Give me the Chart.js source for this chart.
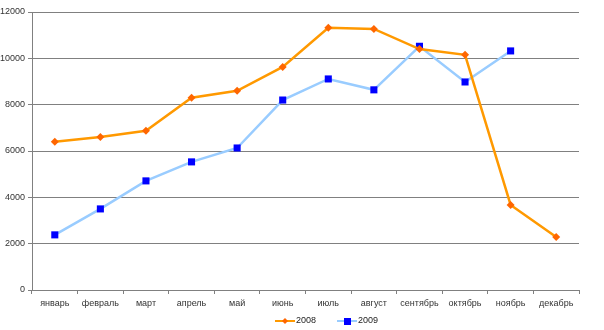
<!DOCTYPE html>
<html><head><meta charset="utf-8">
<script src="https://cdn.jsdelivr.net/npm/chart.js@4"></script>
<style>html,body{margin:0;padding:0;background:#fff}#w{width:604px;height:330px}</style>
</head><body><div id="w"><canvas id="c"></canvas></div>
<script>
const categories = ["январь","февраль","март","апрель","май","июнь","июль","август","сентябрь","октябрь","ноябрь","декабрь"];
const series2008 = [6400,6600,6870,8300,8600,9630,11320,11270,10400,10150,3670,2290];
const series2009 = [2380,3500,4710,5530,6130,8200,9110,8640,10520,8980,10320,null];
const yTicks = [0,2000,4000,6000,8000,10000,12000];
const seriesNames = ["2008","2009"];

const bottomLegend = {
  id:'bottomLegend',
  afterDraw(chart){
    const g=chart.ctx;
    const y=321;
    g.save();
    g.font='9px "Liberation Sans"';
    g.textBaseline='middle';
    const items=[{x:275,ds:0},{x:337,ds:1}];
    items.forEach(it=>{
      const ds=chart.data.datasets[it.ds];
      const x0=it.x;
      g.strokeStyle=ds.borderColor; g.lineWidth=2;
      g.beginPath(); g.moveTo(x0,y); g.lineTo(x0+20,y); g.stroke();
      g.fillStyle=ds.pointBackgroundColor;
      if(ds.pointStyle==='rectRot'){g.beginPath();g.moveTo(x0+10,y-3);g.lineTo(x0+13,y);g.lineTo(x0+10,y+3);g.lineTo(x0+7,y);g.closePath();g.fill();}
      else g.fillRect(x0+7,y-3,7,7);
      g.fillStyle='#222';
      g.fillText(ds.label,x0+21,y);
    });
    g.restore();
  }
};

new Chart(document.getElementById('c'),{
  type:'line',
  data:{labels:categories,datasets:[
    {label:seriesNames[0],data:series2008,borderColor:'#FF9900',backgroundColor:'#FF6600',borderWidth:2.5,
     pointStyle:'rectRot',pointRadius:4,pointBorderWidth:0,pointBackgroundColor:'#FF6600',tension:0},
    {label:seriesNames[1],data:series2009,borderColor:'#99CCFF',backgroundColor:'#0000FF',borderWidth:2.5,
     pointStyle:'rect',pointRadius:5,pointBorderWidth:0,pointBackgroundColor:'#0000FF',tension:0}
  ]},
  plugins:[bottomLegend],
  options:{
    responsive:true,maintainAspectRatio:false,animation:false,
    layout:{padding:{left:0,right:25,top:12,bottom:18}},
    plugins:{tooltip:{enabled:false},legend:{display:false}},
    scales:{
      x:{offset:true,
        afterFit:(s)=>{s.height=22;},
        grid:{display:true,drawOnChartArea:false,drawTicks:true,tickLength:4,color:'#808080',offset:true},
        border:{color:'#808080',width:1},
        ticks:{font:{family:'Liberation Sans',size:9},color:'#333',maxRotation:0,autoSkip:false,padding:4}},
      y:{min:0,max:12000,
        afterFit:(s)=>{s.width=32;},
        afterBuildTicks:(s)=>{s.ticks=yTicks.map(v=>({value:v}));},
        grid:{color:'#808080',lineWidth:1,tickLength:4},
        border:{color:'#808080',width:1},
        ticks:{font:{family:'Liberation Sans',size:9},color:'#333',padding:3,callback:(v)=>String(v)}}
    }
  }
});
</script></body></html>
